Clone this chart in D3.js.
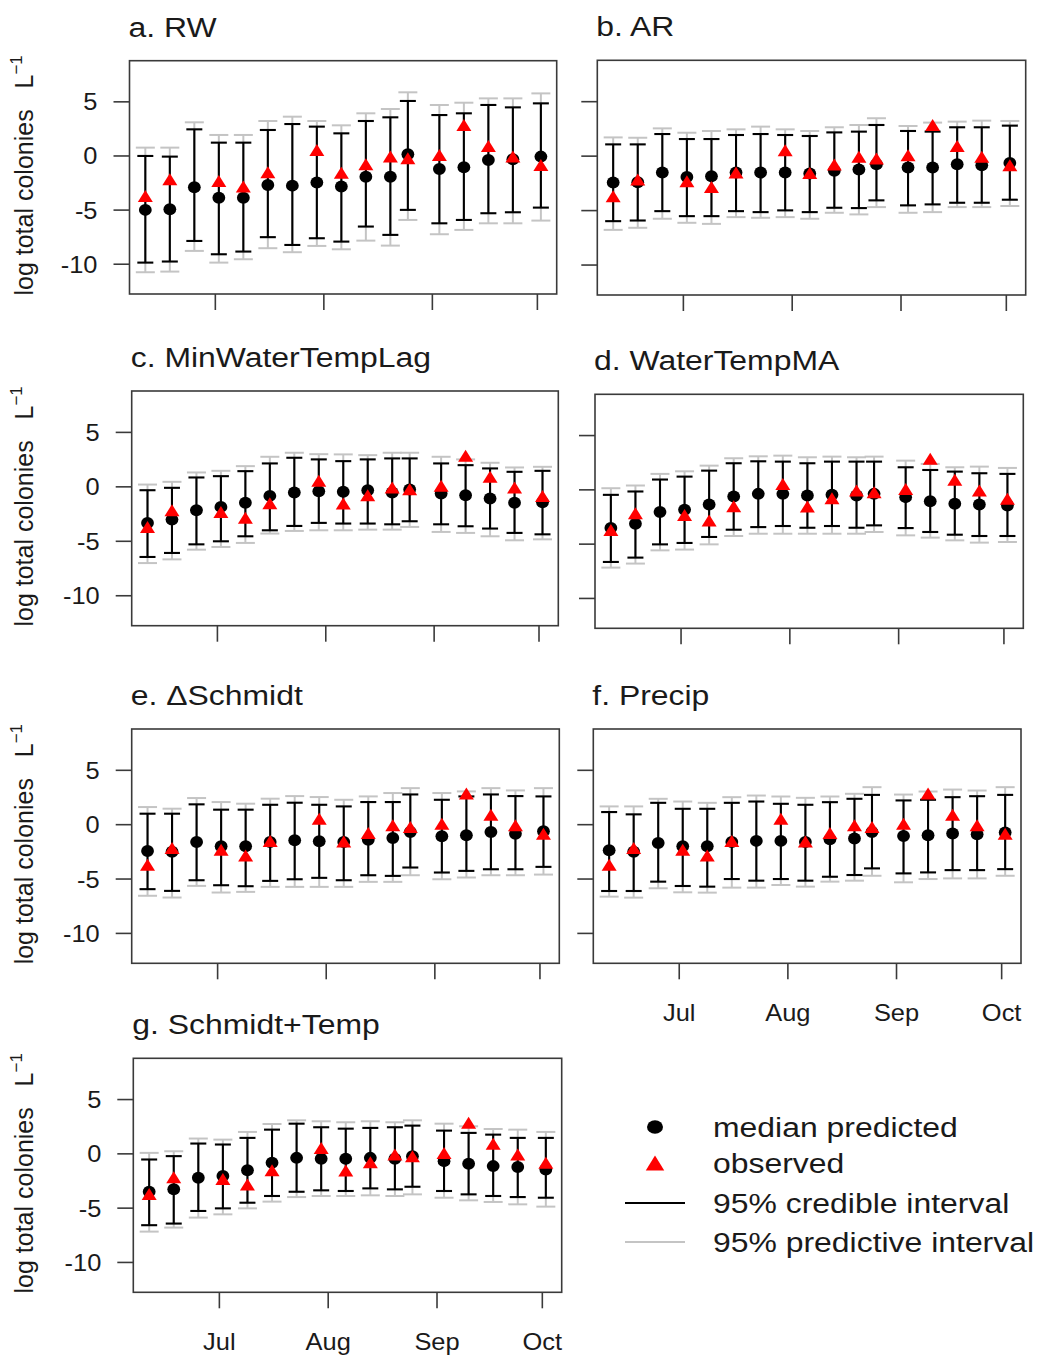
<!DOCTYPE html>
<html>
<head>
<meta charset="utf-8">
<script src="https://cdn.jsdelivr.net/npm/d3@7"></script>
<style>
  body { margin: 0; background: #fff; }
  text { font-family: "Liberation Sans", Arial, sans-serif; fill: #1a1a1a; }
</style>
</head>
<body>
<svg id="c" width="1040" height="1357"></svg>
<script>

// ---- data ----

const sampleDates = ["06-11", "06-18", "06-25", "07-02", "07-09", "07-16", "07-23", "07-30",
  "08-06", "08-13", "08-20", "08-25", "09-03", "09-10", "09-17", "09-24", "10-02"];

const panelTitles = ["a. RW", "b. AR", "c. MinWaterTempLag", "d. WaterTempMA",
  "e. \u0394Schmidt", "f. Precip", "g. Schmidt+Temp"];

// observed log colonies (null = not sampled)
const observed = [-3.69, -2.15, null, -2.31, -2.83, -1.51, null, 0.55, -1.54, -0.77, -0.06, -0.22, 0.09, 2.86, 0.92, -0.06, -0.83];

// one row per model, same order as panelTitles
const medianPred = [
  [-4.98, -4.92, -2.89, -3.85, -3.85, -2.68, -2.74, -2.46, -2.83, -1.91, -1.91, 0.15, -1.2, -1.05, -0.37, -0.3, -0.06],
  [-2.43, -2.4, -1.51, -1.91, -1.85, -1.5, -1.51, -1.51, -1.6, -1.35, -1.23, -0.74, -1.05, -1.05, -0.74, -0.83, -0.62],
  [-3.31, -3.01, -2.15, -1.84, -1.47, -0.83, -0.52, -0.4, -0.46, -0.31, -0.52, -0.25, -0.61, -0.77, -1.07, -1.47, -1.41],
  [-3.52, -3.12, -2.05, -1.83, -1.35, -0.61, -0.37, -0.37, -0.52, -0.46, -0.52, -0.37, -0.67, -1.04, -1.28, -1.35, -1.44],
  [-2.42, -2.5, -1.59, -1.99, -1.99, -1.6, -1.44, -1.53, -1.6, -1.38, -1.22, -0.67, -1.07, -0.98, -0.67, -0.83, -0.61],
  [-2.35, -2.5, -1.68, -1.98, -1.98, -1.6, -1.49, -1.49, -1.6, -1.34, -1.28, -0.67, -1.04, -0.98, -0.82, -0.88, -0.73],
  [-3.49, -3.27, -2.2, -2.05, -1.5, -0.83, -0.37, -0.46, -0.46, -0.37, -0.45, -0.21, -0.67, -0.92, -1.13, -1.22, -1.44]
];

const credHigh = [
  [0.0, -0.06, 2.46, 1.23, 1.23, 2.4, 2.95, 2.71, 2.09, 3.23, 3.57, 5.08, 3.78, 3.94, 4.71, 4.49, 4.86],
  [1.08, 1.08, 2.03, 1.57, 1.57, 1.94, 2.03, 1.94, 1.85, 2.18, 2.25, 2.86, 2.31, 2.25, 2.65, 2.65, 2.8],
  [-0.31, -0.09, 0.86, 0.98, 1.44, 2.15, 2.67, 2.52, 2.36, 2.52, 2.61, 2.61, 2.15, 1.99, 1.69, 1.38, 1.47],
  [-0.46, -0.15, 0.95, 1.22, 1.77, 2.45, 2.63, 2.6, 2.45, 2.6, 2.6, 2.6, 2.08, 1.83, 1.68, 1.53, 1.47],
  [1.01, 1.01, 1.87, 1.38, 1.38, 1.83, 2.02, 1.83, 1.68, 2.08, 2.08, 2.78, 2.29, 2.6, 2.78, 2.63, 2.6],
  [1.16, 0.95, 2.01, 1.46, 1.46, 2.01, 2.13, 1.92, 1.83, 2.07, 2.38, 2.74, 2.23, 2.29, 2.53, 2.62, 2.74],
  [-0.52, -0.21, 0.95, 0.86, 1.47, 2.23, 2.78, 2.45, 2.32, 2.39, 2.45, 2.6, 2.14, 1.93, 1.77, 1.47, 1.47]
];

const credLow = [
  [-9.85, -9.75, -7.85, -9.08, -8.83, -7.5, -8.22, -7.6, -7.91, -6.52, -7.29, -4.98, -6.22, -5.91, -5.29, -5.2, -4.77],
  [-5.97, -5.91, -5.05, -5.51, -5.51, -5.05, -5.14, -4.98, -5.14, -4.74, -4.77, -4.06, -4.52, -4.43, -4.28, -4.28, -4.0],
  [-6.44, -6.07, -5.28, -5.0, -4.54, -3.99, -3.59, -3.31, -3.37, -3.37, -3.44, -3.16, -3.44, -3.62, -3.83, -4.23, -4.36],
  [-6.64, -6.24, -5.02, -4.89, -4.34, -3.67, -3.43, -3.33, -3.49, -3.33, -3.49, -3.27, -3.52, -3.88, -4.13, -4.25, -4.25],
  [-5.93, -6.09, -5.11, -5.57, -5.66, -5.17, -5.02, -4.89, -5.11, -4.65, -4.71, -3.94, -4.4, -4.25, -4.1, -4.1, -3.88],
  [-6.1, -6.1, -5.24, -5.64, -5.7, -5.0, -5.15, -5.0, -5.15, -4.79, -4.63, -4.02, -4.48, -4.39, -4.18, -4.18, -4.09],
  [-6.57, -6.42, -5.26, -5.02, -4.5, -3.88, -3.49, -3.36, -3.42, -3.18, -3.27, -3.03, -3.42, -3.73, -3.88, -3.98, -4.04]
];

const predHigh = [
  [0.77, 0.77, 3.11, 1.94, 1.94, 3.23, 3.63, 3.23, 2.83, 3.94, 4.34, 5.88, 4.71, 4.92, 5.32, 5.32, 5.78],
  [1.72, 1.69, 2.55, 2.15, 2.31, 2.46, 2.71, 2.46, 2.31, 2.65, 2.86, 3.48, 2.77, 3.08, 3.17, 3.26, 3.23],
  [0.21, 0.46, 1.32, 1.47, 1.9, 2.76, 3.13, 3.0, 2.98, 2.91, 3.13, 3.13, 2.76, 2.52, 2.21, 1.78, 1.84],
  [0.15, 0.4, 1.47, 1.71, 2.23, 2.91, 3.09, 3.15, 3.0, 3.06, 3.0, 3.06, 2.69, 2.39, 2.08, 2.14, 2.02],
  [1.62, 1.47, 2.45, 2.08, 1.93, 2.39, 2.63, 2.54, 2.29, 2.6, 2.91, 3.36, 2.91, 3.06, 3.36, 3.15, 3.36],
  [1.68, 1.68, 2.38, 2.13, 2.01, 2.53, 2.68, 2.59, 2.47, 2.59, 2.84, 3.45, 2.77, 3.05, 3.23, 3.14, 3.45],
  [0.09, 0.24, 1.41, 1.31, 2.02, 2.75, 3.09, 3.0, 2.91, 3.0, 2.91, 3.09, 2.78, 2.54, 2.29, 2.23, 2.02]
];

const predLow = [
  [-10.74, -10.68, -8.77, -9.85, -9.54, -8.52, -8.89, -8.31, -8.62, -7.82, -8.28, -5.91, -7.23, -6.83, -6.22, -6.22, -5.97],
  [-6.77, -6.58, -5.75, -6.12, -6.22, -5.6, -5.66, -5.6, -5.75, -5.2, -5.35, -4.68, -5.2, -5.14, -4.68, -4.68, -4.58],
  [-7.0, -6.66, -5.77, -5.52, -5.15, -4.29, -4.05, -3.99, -3.99, -3.93, -3.93, -3.68, -4.14, -4.23, -4.54, -4.91, -4.82],
  [-7.16, -6.79, -5.57, -5.5, -5.02, -4.25, -4.04, -4.04, -4.04, -4.04, -4.04, -3.88, -4.19, -4.4, -4.65, -4.86, -4.8],
  [-6.54, -6.7, -5.63, -6.24, -6.18, -5.72, -5.72, -5.72, -5.72, -5.26, -5.26, -4.65, -5.02, -4.86, -4.65, -4.65, -4.59],
  [-6.62, -6.71, -5.85, -6.22, -6.25, -5.79, -5.79, -5.55, -5.7, -5.24, -5.15, -4.7, -5.3, -5.0, -4.94, -4.94, -4.7],
  [-7.16, -6.79, -5.87, -5.57, -5.02, -4.4, -3.98, -3.88, -3.88, -3.82, -3.88, -3.73, -4.04, -4.28, -4.43, -4.65, -4.86]
];

const monthTicks = ["07-01", "08-01", "09-01", "10-01"];
const monthLabels = ["Jul", "Aug", "Sep", "Oct"];
const yTicks = [5, 0, -5, -10];
const yLimits = [-12.75, 8.8];

const legendLabels = ["median predicted", "observed", "95% credible interval", "95% predictive interval"];

// ---- layout (plot boxes in page pixels) ----

const layout = [
  { x0: 129.5, x1: 556.7, y0: 60.7, y1: 294, yLab: true, xLab: false },
  { x0: 597.3, x1: 1025.7, y0: 60.3, y1: 295, yLab: false, xLab: false },
  { x0: 131.7, x1: 558.3, y0: 391, y1: 625.7, yLab: true, xLab: false },
  { x0: 595, x1: 1023.3, y0: 394.3, y1: 628.3, yLab: false, xLab: false },
  { x0: 131.7, x1: 559.3, y0: 729, y1: 963.3, yLab: true, xLab: false },
  { x0: 593.3, x1: 1021, y0: 729, y1: 963.3, yLab: false, xLab: true },
  { x0: 133.3, x1: 561.7, y0: 1058.3, y1: 1292.3, yLab: true, xLab: true }
];

const sx = 1.14; // the source figure is a little wider than tall
const red = "#ff0000", grey = "#c4c4c4", frame = "#3a3a3a";

const parseDay = d3.timeParse("%Y-%m-%d");
const days = sampleDates.map(d => parseDay("2014-" + d));
const months = monthTicks.map(d => parseDay("2014-" + d));

const ext = d3.extent(days);
const pad = (ext[1] - ext[0]) * 0.04;
const xDomain = [new Date(+ext[0] - pad), new Date(+ext[1] + pad)];

const svg = d3.select("#c");

function label (g, x, y, str, size, anchor, stretch) {
  return g.append("text")
    .attr("transform", `translate(${x},${y}) scale(${stretch},1)`)
    .attr("text-anchor", anchor)
    .attr("font-size", size)
    .text(str);
}

function triangle (cx, cy, w, h) {
  return `M${cx - w / 2},${cy + h / 2}L${cx + w / 2},${cy + h / 2}L${cx},${cy - h / 2}Z`;
}

layout.forEach((box, p) => {
  const g = svg.append("g");

  const x = d3.scaleTime().domain(xDomain).range([box.x0, box.x1]);
  const y = d3.scaleLinear().domain(yLimits).range([box.y1, box.y0]);

  const rows = days.map((d, i) => ({
    x: x(d),
    med: medianPred[p][i],
    cLo: credLow[p][i], cHi: credHigh[p][i],
    pLo: predLow[p][i], pHi: predHigh[p][i],
    obs: observed[i]
  }));

  // predictive intervals (grey)
  const pg = g.append("g").attr("stroke", grey).attr("stroke-width", 2).attr("fill", "none");
  rows.forEach(r => {
    pg.append("line").attr("x1", r.x).attr("x2", r.x).attr("y1", y(r.pHi)).attr("y2", y(r.pLo));
    pg.append("line").attr("x1", r.x - 9.5).attr("x2", r.x + 9.5).attr("y1", y(r.pHi)).attr("y2", y(r.pHi));
    pg.append("line").attr("x1", r.x - 9.5).attr("x2", r.x + 9.5).attr("y1", y(r.pLo)).attr("y2", y(r.pLo));
  });

  // credible intervals (black)
  const cg = g.append("g").attr("stroke", "#000").attr("stroke-width", 2.1).attr("fill", "none");
  rows.forEach(r => {
    cg.append("line").attr("x1", r.x).attr("x2", r.x).attr("y1", y(r.cHi)).attr("y2", y(r.cLo));
    cg.append("line").attr("x1", r.x - 8).attr("x2", r.x + 8).attr("y1", y(r.cHi)).attr("y2", y(r.cHi));
    cg.append("line").attr("x1", r.x - 8).attr("x2", r.x + 8).attr("y1", y(r.cLo)).attr("y2", y(r.cLo));
  });

  g.selectAll("ellipse.med").data(rows).join("ellipse")
    .attr("class", "med")
    .attr("cx", d => d.x).attr("cy", d => y(d.med))
    .attr("rx", 6.4).attr("ry", 6)
    .attr("fill", "#000");

  g.selectAll("path.obs").data(rows.filter(d => d.obs !== null)).join("path")
    .attr("class", "obs")
    .attr("d", d => triangle(d.x, y(d.obs), 15, 12))
    .attr("fill", red);

  // frame
  g.append("rect")
    .attr("x", box.x0).attr("y", box.y0)
    .attr("width", box.x1 - box.x0).attr("height", box.y1 - box.y0)
    .attr("fill", "none").attr("stroke", frame).attr("stroke-width", 1.6);

  // y ticks
  yTicks.forEach(t => {
    g.append("line").attr("x1", box.x0 - 16).attr("x2", box.x0)
      .attr("y1", y(t)).attr("y2", y(t))
      .attr("stroke", frame).attr("stroke-width", 1.6);
    if (box.yLab) label(g, box.x0 - 32, y(t) + 8.5, String(t), 24, "end", 1.06);
  });

  // month ticks
  months.forEach((m, i) => {
    g.append("line").attr("x1", x(m)).attr("x2", x(m))
      .attr("y1", box.y1).attr("y2", box.y1 + 16)
      .attr("stroke", frame).attr("stroke-width", 1.6);
    if (box.xLab) label(g, x(m), box.y1 + 58, monthLabels[i], 24, "middle", 1.06);
  });

  label(g, box.x0 - 1, box.y0 - 24, panelTitles[p], 28, "start", sx);

  if (box.yLab) {
    const t = g.append("text")
      .attr("transform", `translate(33,${(box.y0 + box.y1) / 2 - 2}) rotate(-90)`)
      .attr("text-anchor", "middle")
      .attr("font-size", 25);
    t.append("tspan").text("log total colonies\u00a0\u00a0\u00a0L");
    t.append("tspan").attr("font-size", 17).attr("dy", -11).text("\u22121");
  }
});

// legend
const lg = svg.append("g");
const lx = 655, ly = [1127, 1163, 1203, 1242];
lg.append("ellipse").attr("cx", lx).attr("cy", ly[0]).attr("rx", 8).attr("ry", 6.7).attr("fill", "#000");
lg.append("path").attr("d", triangle(lx, ly[1], 18.5, 15)).attr("fill", red);
lg.append("line").attr("x1", lx - 30).attr("x2", lx + 30).attr("y1", ly[2]).attr("y2", ly[2])
  .attr("stroke", "#000").attr("stroke-width", 2.2);
lg.append("line").attr("x1", lx - 30).attr("x2", lx + 30).attr("y1", ly[3]).attr("y2", ly[3])
  .attr("stroke", grey).attr("stroke-width", 2.2);
legendLabels.forEach((s, i) => label(lg, 713, ly[i] + 10, s, 28, "start", sx));

</script>
</body>
</html>
